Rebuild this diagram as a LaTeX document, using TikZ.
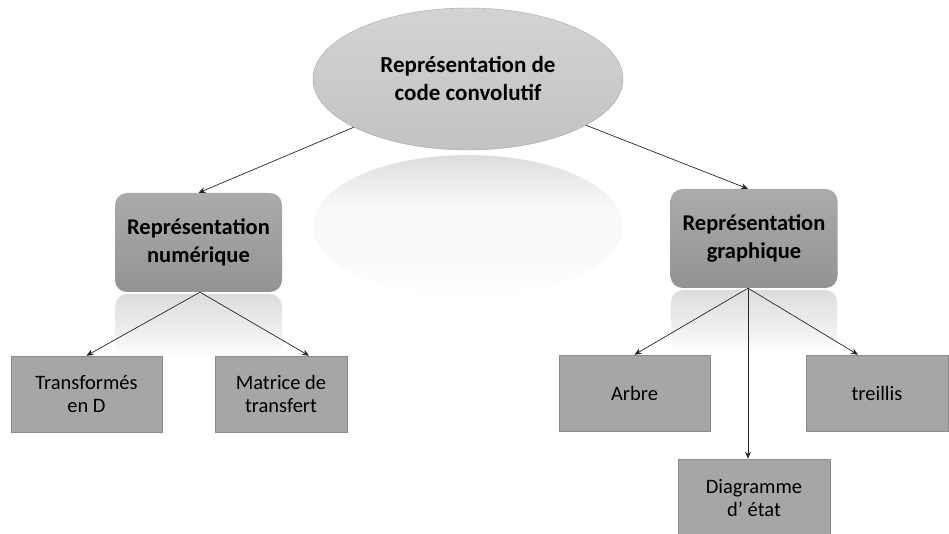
\documentclass[tikz,border=0pt]{standalone}
\usepackage{fontspec}
\setmainfont{Carlito}
\usetikzlibrary{shapes.geometric,arrows.meta}
\definecolor{rootTop}{HTML}{D4D4D4}
\definecolor{rootBot}{HTML}{C2C2C2}
\definecolor{midTop}{HTML}{ABABAB}
\definecolor{midBot}{HTML}{939393}
\definecolor{leafFill}{HTML}{A6A6A6}
\definecolor{leafEdge}{HTML}{8A8A8A}
\definecolor{glowTop}{HTML}{DCDCDC}
\definecolor{glowLow}{HTML}{F9F9F9}
% soft fade used for the mirrored shapes: grey at the top, almost white from about a third down
\pgfdeclareverticalshading{glowfade}{100bp}{color(0bp)=(white); color(25bp)=(white);
  color(40bp)=(glowLow); color(56bp)=(glowLow); color(66bp)=(glowTop!55!white); color(75bp)=(glowTop); color(100bp)=(glowTop)}
\pgfdeclareverticalshading{rectfade}{100bp}{color(0bp)=(white); color(25bp)=(white);
  color(40bp)=(glowTop!35!white); color(75bp)=(glowTop); color(100bp)=(glowTop)}
\tikzset{
  rootnode/.style={ellipse, minimum width=310pt, minimum height=142pt, inner sep=0pt,
    top color=rootTop, bottom color=rootBot, draw=rootBot!85!black, line width=0.4pt,
    font=\fontsize{23}{28}\selectfont\bfseries, align=center},
  rootglow/.style={ellipse, minimum width=310pt, minimum height=142pt, inner sep=0pt,
    shading=glowfade},
  midnode/.style={rounded corners=12pt, minimum width=167pt, minimum height=99pt,
    top color=midTop, bottom color=midBot, draw=none,
    font=\fontsize{22.5}{28}\selectfont\bfseries, align=center},
  midglow/.style={rounded corners=12pt, shading=rectfade, draw=none},
  leafnode/.style={rectangle, minimum height=76pt, fill=leafFill, draw=leafEdge,
    line width=0.6pt, font=\fontsize{20.5}{23}\selectfont, align=center},
  link/.style={draw=black!85, line width=0.7pt, -{Stealth[length=7pt,width=6pt]}}
}
\begin{document}
\begin{tikzpicture}[x=1pt,y=1pt]
\useasboundingbox (0,0) rectangle (949,534);
% faded reflections under the upper shapes
\node[rootglow] (rootR) at (468,308) {};
\path[midglow] (115,176) rectangle (282,240);
\path[midglow] (671,180) rectangle (837,244);
% upper levels
\node[rootnode] (root) at (468,455) {Représentation de\\code convolutif};
\node[midnode] (num) at (198.5,291.5) {Représentation\\numérique};
\node[midnode] (gra) at (754,295.5) {Représentation\\graphique};
% leaves
\node[leafnode, minimum width=151pt] (tr) at (86.5,140) {Transformés\\en D};
\node[leafnode, minimum width=132pt] (mt) at (281,140) {Matrice de\\transfert};
\node[leafnode, minimum width=151pt] (ar) at (634.5,141) {Arbre};
\node[leafnode, minimum width=142pt] (tl) at (877,141) {treillis};
\node[leafnode, minimum width=152pt, minimum height=78pt] (de) at (754,36) {Diagramme\\d’ état};
% connectors
\draw[link] (root) -- (num.north);
\draw[link] (root) -- ([xshift=-6pt]gra.north);
\draw[link] ([xshift=1.5pt]num.south) -- (tr.north);
\draw[link] ([xshift=1.5pt]num.south) -- ([xshift=28pt]mt.north);
\draw[link] ([xshift=-6pt]gra.south) -- (ar.north);
\draw[link] ([xshift=-6pt]gra.south) -- ([xshift=-6pt]de.north);
\draw[link] ([xshift=-6pt]gra.south) -- ([xshift=-19pt]tl.north);
\end{tikzpicture}
\end{document}
